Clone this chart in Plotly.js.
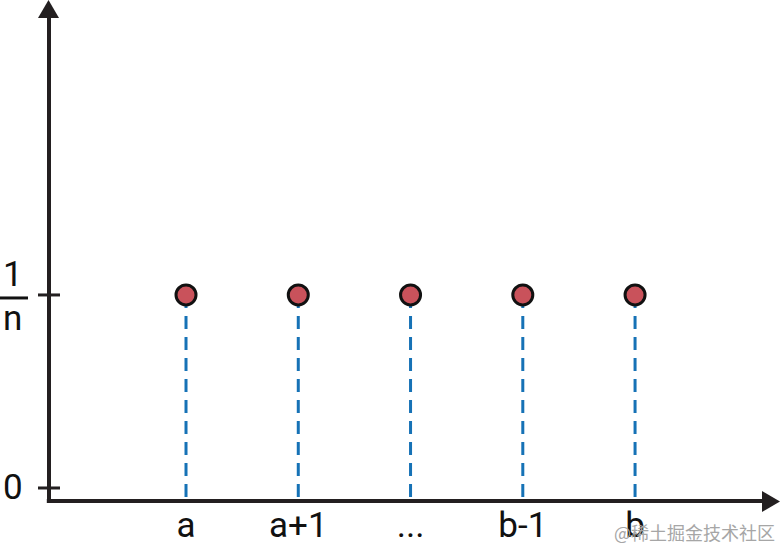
<!DOCTYPE html>
<html>
<head>
<meta charset="utf-8">
<script src="https://cdn.plot.ly/plotly-3.0.1.min.js"></script>
<style>
html,body{margin:0;padding:0;background:#fff;}
#chart{width:781px;height:550px;}
</style>
</head>
<body>
<div id="chart"></div>
<script>
// ---- data ----
const categories = ['a', 'a+1', '...', 'b-1', 'b'];
const xPositions = [1, 2, 3, 4, 5];
const probabilities = [1, 1, 1, 1, 1];   // each equals 1/n
const yTickVals = [0, 1];
const yTickText = ['0', '1/n'];
const watermark = '@稀土掘金技术社区';

// ---- styling ----
const FONT = 'Roboto, "Liberation Sans", sans-serif';
const FSIZE = 35;
const AXIS = '#231f20';
const xRange = [-0.2205, 6.30];
const yRange = [-0.0674, 2.528];

const traces = [];
xPositions.forEach((x, i) => {
  traces.push({
    type: 'scatter', mode: 'lines',
    x: [x, x], y: [probabilities[i], yRange[0]],
    line: {color: '#1672b6', width: 3, dash: '13px,8px'},
    hoverinfo: 'skip', showlegend: false
  });
});
traces.push({
  type: 'scatter', mode: 'markers',
  x: xPositions, y: probabilities,
  marker: {size: 20, color: '#c9525b', line: {color: '#111', width: 3}},
  showlegend: false
});

const shapes = [
  {type: 'line', xref: 'paper', yref: 'paper', x0: 0, x1: 0, y0: -0.004, y1: 0.97, line: {color: AXIS, width: 4}},
  {type: 'line', xref: 'paper', yref: 'paper', x0: -0.003, x1: 0.978, y0: 0, y1: 0, line: {color: AXIS, width: 4}},
  {type: 'path', xref: 'paper', yref: 'paper', xsizemode: 'pixel', ysizemode: 'pixel', xanchor: 0, yanchor: 1,
   path: 'M -0.5 0 L -11 -18 L 10 -18 Z', fillcolor: AXIS, line: {width: 0}},
  {type: 'path', xref: 'paper', yref: 'paper', xsizemode: 'pixel', ysizemode: 'pixel', xanchor: 1, yanchor: 0,
   path: 'M -1 -0.5 L -19 10 L -19 -11 Z', fillcolor: AXIS, line: {width: 0}},
  {type: 'line', xref: 'paper', yref: 'y', xsizemode: 'pixel', ysizemode: 'pixel', xanchor: 0, yanchor: yTickVals[1],
   x0: -49, x1: -21, y0: -3, y1: -3, line: {color: '#111', width: 3}}
];
yTickVals.forEach(v => {
  shapes.push({type: 'line', xref: 'paper', yref: 'y', xsizemode: 'pixel', xanchor: 0,
    x0: -11, x1: 11, y0: v, y1: v, line: {color: AXIS, width: 3}});
});

const parts = yTickText[1].split('/');
const annotations = [
  {xref: 'paper', yref: 'y', x: 0, y: yTickVals[0], xanchor: 'center', xshift: -36, yshift: 0, text: yTickText[0],
   showarrow: false, font: {family: FONT, size: FSIZE, color: '#111'}},
  {xref: 'paper', yref: 'y', x: 0, y: yTickVals[1], xanchor: 'center', xshift: -36, yshift: 20, text: parts[0],
   showarrow: false, font: {family: FONT, size: FSIZE, color: '#111'}},
  {xref: 'paper', yref: 'y', x: 0, y: yTickVals[1], xanchor: 'center', xshift: -37, yshift: -24, text: parts[1],
   showarrow: false, font: {family: FONT, size: FSIZE, color: '#111'}},
  {xref: 'paper', yref: 'paper', x: 1, y: 0, xanchor: 'right', yanchor: 'middle', xshift: -4, yshift: -31,
   text: watermark, showarrow: false, font: {family: '"Noto Sans CJK SC", sans-serif', size: 18, color: '#a6a6a6'}}
];

const layout = {
  width: 781, height: 550,
  margin: {l: 49, r: 0, t: 0, b: 49},
  paper_bgcolor: '#fff', plot_bgcolor: '#fff',
  xaxis: {range: xRange, showgrid: false, zeroline: false, showline: false,
    tickmode: 'array', tickvals: xPositions, ticktext: categories, ticks: '',
    tickfont: {family: FONT, size: FSIZE, color: '#111'}, fixedrange: true},
  yaxis: {range: yRange, showgrid: false, zeroline: false, showline: false,
    showticklabels: false, ticks: '', fixedrange: true},
  shapes: shapes,
  annotations: annotations,
  showlegend: false
};

Plotly.newPlot('chart', traces, layout, {staticPlot: true, displayModeBar: false});
</script>
</body>
</html>
